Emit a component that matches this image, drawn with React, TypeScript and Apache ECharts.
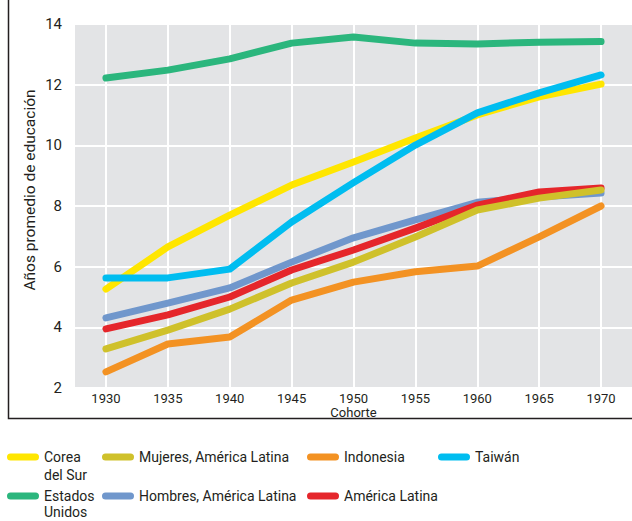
import React, { useEffect, useRef } from 'react';
import * as echarts from 'echarts';

const cohorts = ['1930', '1935', '1940', '1945', '1950', '1955', '1960', '1965', '1970'];
const estadosUnidos = [12.22, 12.48, 12.85, 13.37, 13.57, 13.37, 13.34, 13.4, 13.42];
const coreaDelSur = [5.26, 6.65, 7.7, 8.69, 9.45, 10.24, 11.0, 11.6, 12.02];
const taiwan = [5.63, 5.63, 5.92, 7.47, 8.77, 10.01, 11.07, 11.73, 12.32];
const hombresAL = [4.31, 4.8, 5.3, 6.15, 6.95, 7.54, 8.12, 8.3, 8.43];
const americaLatina = [3.95, 4.41, 5.0, 5.89, 6.55, 7.27, 8.03, 8.46, 8.59];
const mujeresAL = [3.29, 3.91, 4.6, 5.46, 6.15, 6.98, 7.87, 8.26, 8.53];
const indonesia = [2.53, 3.45, 3.68, 4.9, 5.49, 5.83, 6.02, 6.98, 8.0];
const yMin = 2;
const yMax = 14;
const yStep = 2;

const FONT = 'Roboto';
const TEXT = '#231f20';
const PILL = 'path://M3.5,0H28.5A3.5,3.5,0,0,1,28.5,7H3.5A3.5,3.5,0,0,1,3.5,0Z';

const seriesDefs = [
  { name: 'Estados Unidos', label: 'Estados\nUnidos', data: estadosUnidos, color: '#2bb67d' },
  { name: 'Corea del Sur', label: 'Corea\ndel Sur', data: coreaDelSur, color: '#ffe600' },
  { name: 'Taiwán', label: 'Taiwán', data: taiwan, color: '#00bdf0' },
  { name: 'Hombres, América Latina', label: 'Hombres, América Latina', data: hombresAL, color: '#7097cc' },
  { name: 'América Latina', label: 'América Latina', data: americaLatina, color: '#e5262b' },
  { name: 'Mujeres, América Latina', label: 'Mujeres, América Latina', data: mujeresAL, color: '#cfc12b' },
  { name: 'Indonesia', label: 'Indonesia', data: indonesia, color: '#f39223' },
];

// legend placement: [name, iconLeft, iconCenterY, lineHeight]
const legendPlaces: [string, number, number, number][] = [
  ['Corea del Sur', 7, 457, 18],
  ['Mujeres, América Latina', 102, 457, 18],
  ['Indonesia', 307, 457, 18],
  ['Taiwán', 438, 457, 18],
  ['Estados Unidos', 7, 496, 16],
  ['Hombres, América Latina', 102, 496, 16],
  ['América Latina', 307, 496, 16],
];

export default function App() {
  const ref = useRef<HTMLDivElement>(null);
  useEffect(() => {
    if (!ref.current) return;
    const chart = echarts.init(ref.current, undefined, { renderer: 'svg' });
    const labelOf: Record<string, string> = {};
    seriesDefs.forEach((s) => (labelOf[s.name] = s.label));
    const legends = legendPlaces.map(([name, left, cy, lh]) => {
      const multi = labelOf[name].includes('\n');
      return {
        show: true,
        data: [name],
        left: left,
        top: multi ? cy - 1.5 * lh : cy - lh / 2,
        padding: 0,
        itemWidth: 32,
        itemHeight: 7,
        icon: PILL,
        selectedMode: false,
        // a leading blank line puts the first text line level with the icon
        formatter: (n: string) => (multi ? ' \n' + labelOf[n] : labelOf[n]),
        textStyle: {
          fontFamily: FONT,
          fontSize: 14,
          color: TEXT,
          lineHeight: lh,
        },
      };
    });
    chart.setOption({
      animation: false,
      textStyle: { fontFamily: FONT },
      grid: {
        left: 75,
        top: 24,
        width: 560,
        height: 364,
        show: true,
        backgroundColor: '#e3e4e6',
        borderWidth: 0,
      },
      graphic: [
        {
          type: 'rect',
          shape: { x: 8.5, y: -10, width: 700, height: 428.5 },
          style: { fill: 'none', stroke: TEXT, lineWidth: 1.5 },
          silent: true,
        },
        {
          type: 'text',
          x: 30,
          y: 190,
          rotation: Math.PI / 2,
          style: {
            text: 'Años promedio de educación',
            fontFamily: FONT,
            fontSize: 15.5,
            fill: TEXT,
            align: 'center',
            verticalAlign: 'middle',
          },
          silent: true,
        },
      ],
      legend: legends,
      xAxis: {
        type: 'category',
        data: cohorts,
        boundaryGap: true,
        name: 'Cohorte',
        nameLocation: 'middle',
        nameGap: 18,
        nameMoveOverlap: false,
        nameTextStyle: { fontFamily: FONT, fontSize: 13, lineHeight: 12, color: TEXT },
        axisLine: { show: false },
        axisTick: { show: false, alignWithLabel: true },
        axisLabel: { fontFamily: FONT, fontSize: 13, lineHeight: 12, color: TEXT, margin: 4 },
        splitLine: { show: true, alignWithLabel: true, lineStyle: { color: '#ffffff', width: 2 } },
      },
      yAxis: {
        type: 'value',
        min: yMin,
        max: yMax,
        interval: yStep,
        axisLine: { show: false },
        axisTick: { show: false },
        axisLabel: { fontFamily: FONT, fontSize: 15, color: TEXT, margin: 13 },
        splitLine: { show: true, lineStyle: { color: '#ffffff', width: 2 } },
      },
      series: seriesDefs.map((s) => ({
        name: s.name,
        type: 'line',
        data: s.data,
        showSymbol: false,
        symbol: 'none',
        color: s.color,
        itemStyle: { color: s.color },
        lineStyle: { color: s.color, width: 7, cap: 'round', join: 'round' },
      })),
    });
    return () => chart.dispose();
  }, []);
  return (
    <div
      ref={ref}
      style={{ position: 'fixed', left: 0, top: 0, width: 632, height: 521, background: '#ffffff' }}
    />
  );
}
